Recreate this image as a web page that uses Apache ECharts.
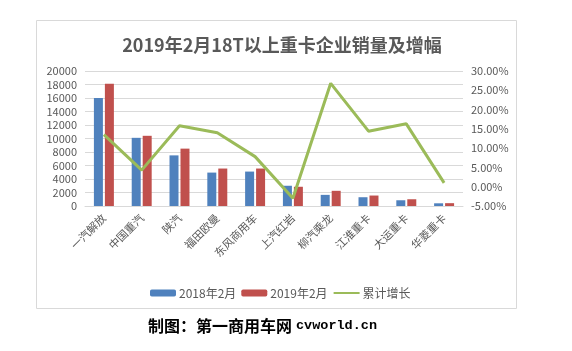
<!DOCTYPE html>
<html>
<head>
<meta charset="utf-8">
<script src="https://cdn.jsdelivr.net/npm/echarts@6/dist/echarts.min.js"></script>
<style>
  html, body { margin: 0; padding: 0; background: #fff; }
  #main { width: 572px; height: 351px; }
</style>
</head>
<body>
<div id="main"></div>
<script>
// 企业名称
var brands = ['一汽解放', '中国重汽', '陕汽', '福田欧曼', '东风商用车', '上汽红岩', '柳汽乘龙', '江淮重卡', '大运重卡', '华菱重卡'];
// 销量（辆）
var sales2018 = [16000, 10100, 7500, 4950, 5100, 3000, 1650, 1300, 850, 400];
var sales2019 = [18100, 10400, 8500, 5550, 5550, 2850, 2250, 1550, 1000, 420];
// 累计增长（%）
var growth = [13.5, 4.3, 15.8, 14.0, 7.8, -3.0, 26.8, 14.4, 16.3, 1.0];

var grey = '#595959';
var font = '"Noto Sans CJK SC", sans-serif';

var chart = echarts.init(document.getElementById('main'));
var option = {
    animation: false,
    textStyle: { fontFamily: font },
    title: {
        text: '2019年2月18T以上重卡企业销量及增幅',
        left: 277,
        textAlign: 'center',
        top: 31,
        textStyle: { fontSize: 18, fontWeight: 'bold', color: grey, fontFamily: font }
    },
    grid: { left: 85, right: 109, top: 71, bottom: 145 },
    legend: {
        left: 145,
        top: 282,
        itemWidth: 26,
        itemHeight: 7,
        itemGap: 5,
        textStyle: { fontSize: 12, color: grey, padding: [0, 0, 0, -2] },
        data: ['2018年2月', '2019年2月', {
            name: '累计增长',
            itemStyle: { color: 'rgba(0,0,0,0)', borderWidth: 0 }
        }]
    },
    xAxis: {
        type: 'category',
        data: brands,
        axisLine: { lineStyle: { color: '#D9D9D9' } },
        axisTick: { show: false },
        axisLabel: { rotate: 45, fontSize: 11, color: grey, margin: 10, interval: 0 }
    },
    yAxis: [{
        type: 'value',
        min: 0, max: 20000, interval: 2000,
        axisLine: { show: false },
        axisTick: { show: false },
        axisLabel: { fontSize: 11, color: grey, margin: 8, formatter: function (v) { return String(v); } },
        splitLine: { lineStyle: { color: '#D9D9D9' } }
    }, {
        type: 'value',
        min: -5, max: 30, interval: 5,
        axisLine: { show: false },
        axisTick: { show: false },
        axisLabel: {
            fontSize: 11, color: grey, margin: 8,
            formatter: function (v) { return v.toFixed(2) + '%'; }
        },
        splitLine: { show: false }
    }],
    series: [{
        name: '2018年2月',
        type: 'bar',
        data: sales2018,
        barWidth: 9,
        barGap: '22%',
        itemStyle: { color: '#4F81BD' }
    }, {
        name: '2019年2月',
        type: 'bar',
        data: sales2019,
        barWidth: 9,
        itemStyle: { color: '#C0504D' }
    }, {
        name: '累计增长',
        type: 'line',
        yAxisIndex: 1,
        data: growth,
        symbol: 'none',
        itemStyle: { color: '#9BBB59' },
        lineStyle: { color: '#9BBB59', width: 3 }
    }],
    graphic: [{
        type: 'rect',
        shape: { x: 36.5, y: 20.5, width: 480, height: 288 },
        style: { fill: 'none', stroke: '#D9D9D9', lineWidth: 1 },
        silent: true
    }, {
        type: 'text',
        left: 148,
        top: 318,
        style: {
            text: '{a|制图：第一商用车网}{b|cvworld.cn}',
            rich: {
                a: { fontSize: 16, fontWeight: 'bold', fill: '#000', fontFamily: font },
                b: { fontSize: 13.5, fontWeight: 'bold', fill: '#000', fontFamily: '"Liberation Mono", monospace', padding: [0, 0, 0, 4] }
            }
        }
    }]
};
chart.setOption(option);
window.onresize = function () { chart.resize(); };
</script>
</body>
</html>
